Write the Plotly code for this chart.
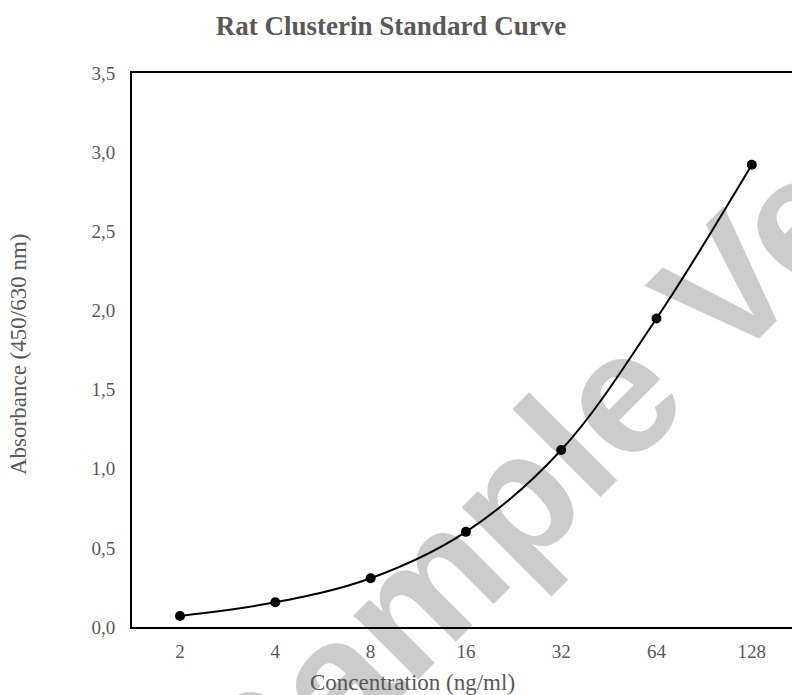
import plotly.graph_objects as go

# Data
concentrations = ["2", "4", "8", "16", "32", "64", "128"]
absorbance = [0.07, 0.156, 0.308, 0.601, 1.118, 1.949, 2.92]
y_ticks = [0, 0.5, 1.0, 1.5, 2.0, 2.5, 3.0, 3.5]

W, H = 792, 695
L, R, T, B = 132, 0, 73, 68
PW, PH = W - L - R, H - T - B

def px(x):
    return (x - L) / PW

def py(y):
    return (H - B - y) / PH

idx = list(range(len(concentrations)))

fig = go.Figure()
fig.add_trace(go.Scatter(
    x=idx, y=absorbance, mode="lines+markers",
    line=dict(color="black", width=2, shape="spline", smoothing=1.0),
    marker=dict(color="black", size=10),
    showlegend=False, hoverinfo="skip",
))

tick_font = dict(family="Liberation Serif", size=19, color="#595959")
title_font = dict(family="Liberation Serif", size=23, color="#595959")

WM_X, WM_Y = 660, 330

fig.update_layout(
    width=W, height=H,
    margin=dict(l=L, r=R, t=T, b=B, pad=0),
    paper_bgcolor="white", plot_bgcolor="white",
    separators=",.",
    title=dict(text="<b>Rat Clusterin Standard Curve</b>",
               font=dict(family="Liberation Serif", size=27, color="#595959"),
               x=391 / W, xanchor="center", xref="container",
               y=1 - 26 / H, yanchor="middle", yref="container"),
    xaxis=dict(range=[-0.504, 6.422], tickmode="array", tickvals=idx,
               ticktext=concentrations, showgrid=False, zeroline=False,
               showline=True, linecolor="black", linewidth=2, mirror=True,
               ticks="", tickfont=tick_font, ticklabelstandoff=6),
    yaxis=dict(range=[0, 3.5], tickmode="array", tickvals=y_ticks,
               tickformat=".1f", showgrid=False, zeroline=False,
               showline=True, linecolor="black", linewidth=2, mirror=False,
               ticks="", tickfont=tick_font, ticklabelstandoff=11),
    annotations=[
        dict(text="Concentration (ng/ml)", xref="paper", yref="paper",
             x=px(412.5), y=py(682), xanchor="center", yanchor="middle",
             showarrow=False, font=title_font),
        dict(text="Absorbance (450/630 nm)", xref="paper", yref="paper",
             x=px(18), y=py(355), xanchor="center", yanchor="middle",
             textangle=-90, showarrow=False, font=title_font),
    ],
    shapes=[
        dict(type="rect", xref="paper", yref="paper",
             x0=px(WM_X - 1), x1=px(WM_X + 1), y0=py(WM_Y + 1), y1=py(WM_Y - 1),
             line=dict(width=0), fillcolor="rgba(0,0,0,0)", layer="below",
             label=dict(text="Sample Version", textangle=-45,
                        textposition="middle center",
                        font=dict(family="Liberation Sans", size=172,
                                  color="#cccccc", weight="bold"))),
    ],
)

fig.write_html("out.html",
               config={"displayModeBar": False},
               post_script="document.body.style.margin='0';document.body.style.overflow='hidden';")
